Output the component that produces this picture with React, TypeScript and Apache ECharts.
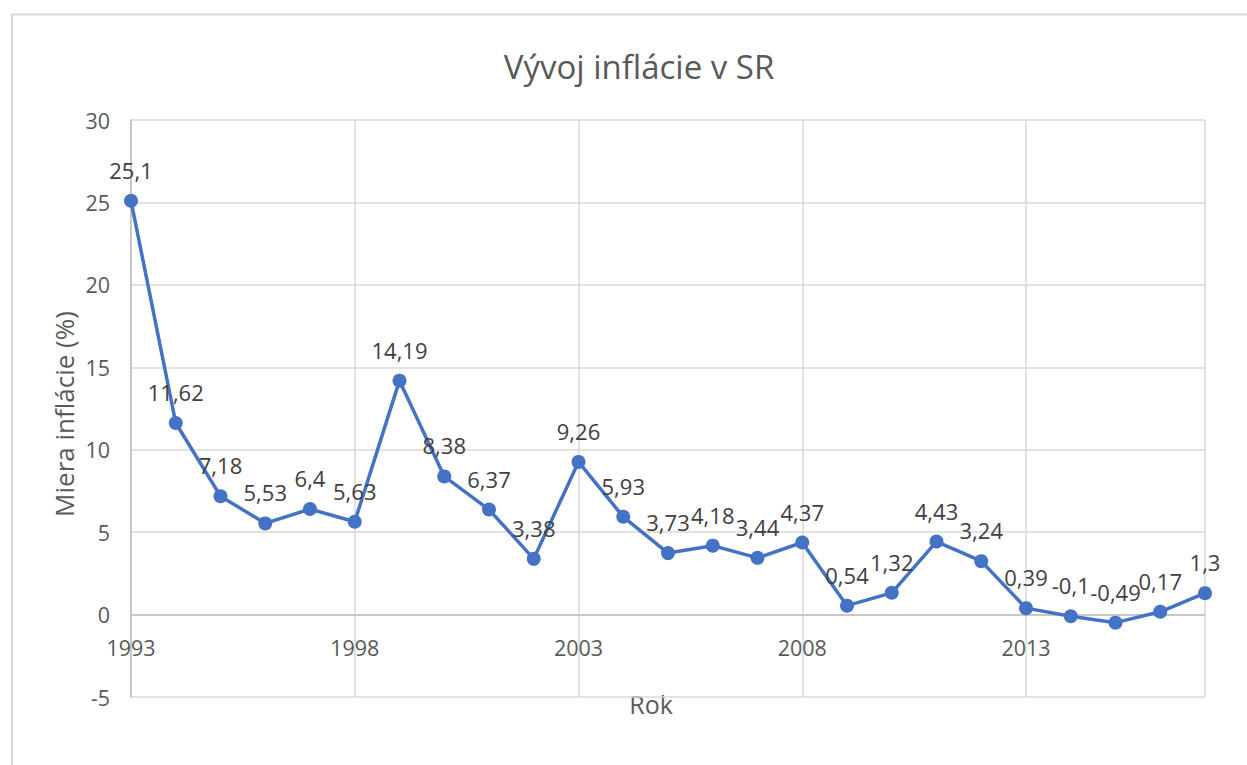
import React, { useEffect, useRef } from "react";
import * as echarts from "echarts";

const titleText = "Vývoj inflácie v SR";
const xAxisTitle = "Rok";
const yAxisTitle = "Miera inflácie (%)";

const years = [
  1993, 1994, 1995, 1996, 1997, 1998, 1999, 2000, 2001, 2002, 2003, 2004, 2005,
  2006, 2007, 2008, 2009, 2010, 2011, 2012, 2013, 2014, 2015, 2016, 2017,
];
const inflation = [
  25.1, 11.62, 7.18, 5.53, 6.4, 5.63, 14.19, 8.38, 6.37, 3.38, 9.26, 5.93, 3.73,
  4.18, 3.44, 4.37, 0.54, 1.32, 4.43, 3.24, 0.39, -0.1, -0.49, 0.17, 1.3,
];

const FONT = "'Open Sans', 'Noto Sans', sans-serif";
const TEXT = "#595959";

export default function App() {
  const ref = useRef<HTMLDivElement>(null);

  useEffect(() => {
    if (!ref.current) return;
    const chart = echarts.init(ref.current, null, { renderer: "svg" });
    const data = years.map((y, i) => [y, inflation[i]]);
    chart.setOption({
      animation: false,
      backgroundColor: "#ffffff",
      textStyle: { fontFamily: FONT },
      title: {
        text: titleText,
        left: 634,
        top: 45,
        textAlign: "center",
        textStyle: { fontFamily: FONT, fontSize: 33, fontWeight: "normal", color: TEXT },
      },
      grid: { left: 131, top: 120, right: 42, bottom: 68 },
      xAxis: {
        type: "value",
        min: 1993,
        max: 2017,
        interval: 5,
        axisLine: { show: false, onZero: false },
        axisTick: { show: false },
        axisLabel: {
          // labels sit just under the zero line (grid bottom is at -5)
          margin: -61,
          fontSize: 21.5,
          color: TEXT,
          fontFamily: FONT,
          formatter: (v: number) => (v === 2017 ? "" : String(v)),
        },
        splitLine: { show: true, lineStyle: { color: "#d9d9d9", width: 1.5 } },
      },
      yAxis: {
        type: "value",
        min: -5,
        max: 30,
        interval: 5,
        axisLine: { show: true, lineStyle: { color: "#bfbfbf", width: 1.5 } },
        axisTick: { show: false },
        axisLabel: { margin: 21, fontSize: 21.5, color: TEXT, fontFamily: FONT },
        splitLine: { show: true, lineStyle: { color: "#d9d9d9", width: 1.5 } },
      },
      graphic: [
        {
          type: "rect",
          shape: { x: 12, y: 14.5, width: 1400, height: 900 },
          style: { fill: "none", stroke: "#d9d9d9", lineWidth: 2 },
          silent: true,
        },
        {
          type: "text",
          x: 651,
          y: 704,
          style: {
            text: xAxisTitle,
            fontSize: 25,
            fontFamily: FONT,
            fill: TEXT,
            align: "center",
            verticalAlign: "middle",
          },
        },
        {
          type: "text",
          x: 64,
          y: 414,
          rotation: Math.PI / 2,
          style: {
            text: yAxisTitle,
            fontSize: 26,
            fontFamily: FONT,
            fill: TEXT,
            align: "center",
            verticalAlign: "middle",
          },
        },
      ],
      series: [
        {
          type: "line",
          data,
          symbol: "circle",
          symbolSize: 14,
          lineStyle: { color: "#4472C4", width: 3.5 },
          itemStyle: { color: "#4472C4" },
          z: 3,
          label: {
            show: true,
            position: "top",
            distance: 13,
            fontSize: 22,
            fontFamily: FONT,
            color: "#404040",
            formatter: (p: any) => String(p.value[1]).replace(".", ","),
          },
          markLine: {
            silent: true,
            symbol: "none",
            label: { show: false },
            z: 1,
            lineStyle: { color: "#bfbfbf", width: 1.5, type: "solid" },
            data: [{ yAxis: 0 }],
          },
        },
      ],
    });
    return () => chart.dispose();
  }, []);

  return (
    <div
      ref={ref}
      style={{ position: "fixed", left: 0, top: 0, width: 1247, height: 765 }}
    />
  );
}
